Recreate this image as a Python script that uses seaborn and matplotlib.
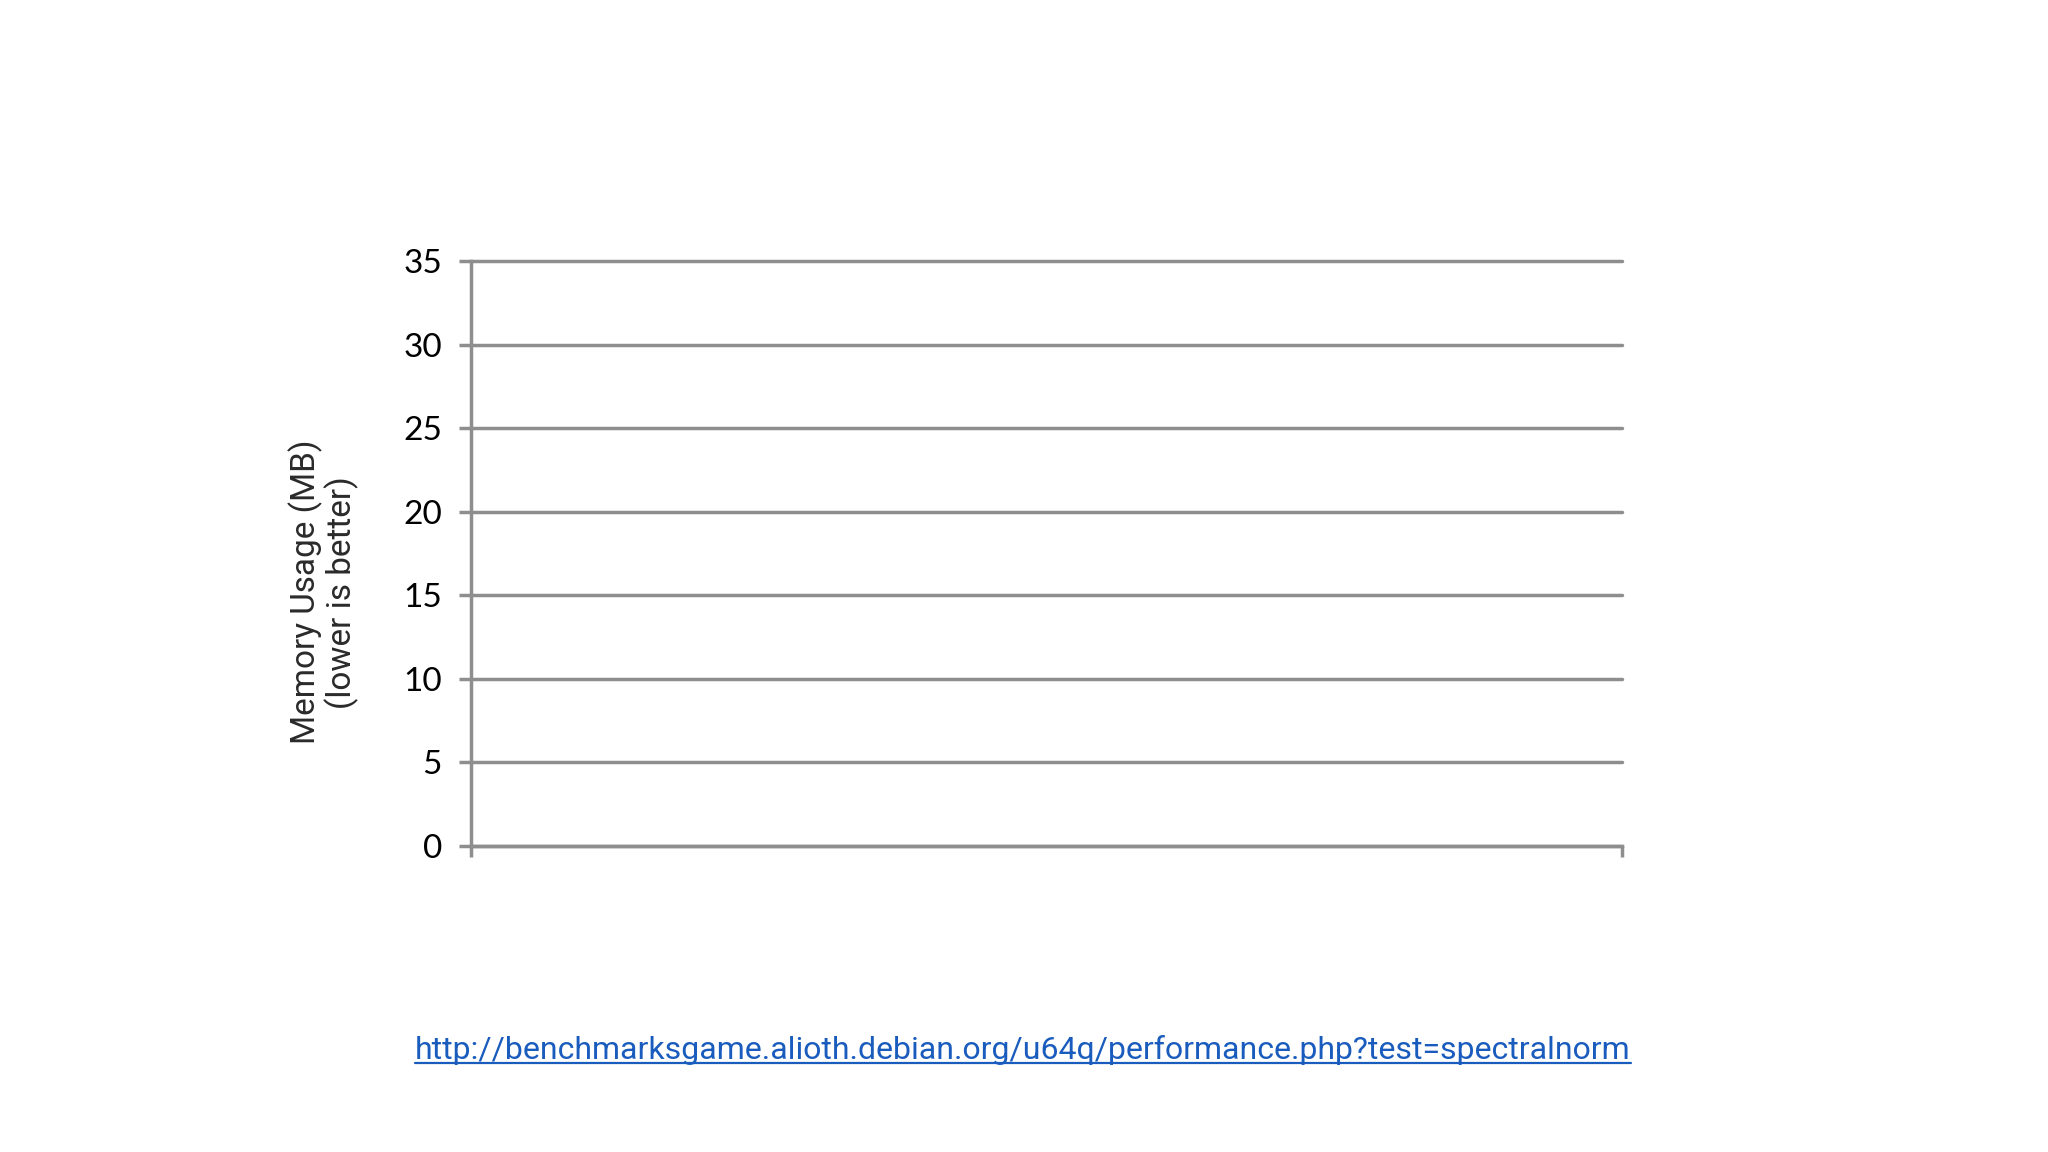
import numpy as np
import pandas as pd
import seaborn as sns
import matplotlib.pyplot as plt
from matplotlib.lines import Line2D

# datos (la grafica original no tiene barras visibles)
categorias = [""]
memoria_mb = [0]
y_ticks = [0, 5, 10, 15, 20, 25, 30, 35]
etiqueta_y = "Memory Usage (MB)\n(lower is better)"
url = "http://benchmarksgame.alioth.debian.org/u64q/performance.php?test=spectralnorm"

gris = "#8e8e8e"
azul = "#1a5cbd"

sns.set_style("white")
plt.rcParams['font.family'] = ['Lato', 'DejaVu Sans']

fig = plt.figure(figsize=(20.48, 11.52), dpi=100)
ax = fig.add_axes([0.230, 0.2656, 0.562, 0.5078])

df = pd.DataFrame({"cat": categorias, "mem": memoria_mb})
sns.barplot(x="cat", y="mem", data=df, color="#4f81bd", ax=ax)

ax.set_ylim(0, 35)
ax.set_xlim(-0.5, 0.5)
ax.set_yticks(y_ticks)
ax.set_yticklabels([str(v) for v in y_ticks], fontsize=24, color="black")
ax.set_xticks([-0.5, 0.5])
ax.set_xticklabels(["", ""])
ax.set_xlabel("")
ax.set_ylabel("")

ax.yaxis.grid(True, color=gris, linewidth=2.5)
ax.xaxis.grid(False)
ax.set_axisbelow(True)
for linea in ax.get_ygridlines():
    linea.set_clip_on(False)

for lado in ["top", "right"]:
    ax.spines[lado].set_visible(False)
for lado in ["left", "bottom"]:
    ax.spines[lado].set_color(gris)
    ax.spines[lado].set_linewidth(2.5)

ax.tick_params(axis="y", direction="out", length=9, width=2.5, color=gris, pad=12, left=True)
ax.tick_params(axis="x", direction="out", length=8, width=2.5, color=gris, bottom=True)

fig.text(0.158, 0.486, etiqueta_y, rotation=90, ha="center", va="center",
         multialignment="center", fontsize=24, color="#2a2a2a",
         family=["Roboto", "DejaVu Sans"], linespacing=1.05)

txt = fig.text(0.4995, 0.0885, url, ha="center", va="center", fontsize=23,
               color=azul, family=["Roboto", "DejaVu Sans"])

# subrayado del enlace
fig.canvas.draw()
bb = txt.get_window_extent().transformed(fig.transFigure.inverted())
fig.add_artist(Line2D([bb.x0, bb.x1], [bb.y0 + 0.002, bb.y0 + 0.002],
                      transform=fig.transFigure, color=azul, linewidth=1.6))

fig.savefig("out.png", dpi=100, facecolor="white")
